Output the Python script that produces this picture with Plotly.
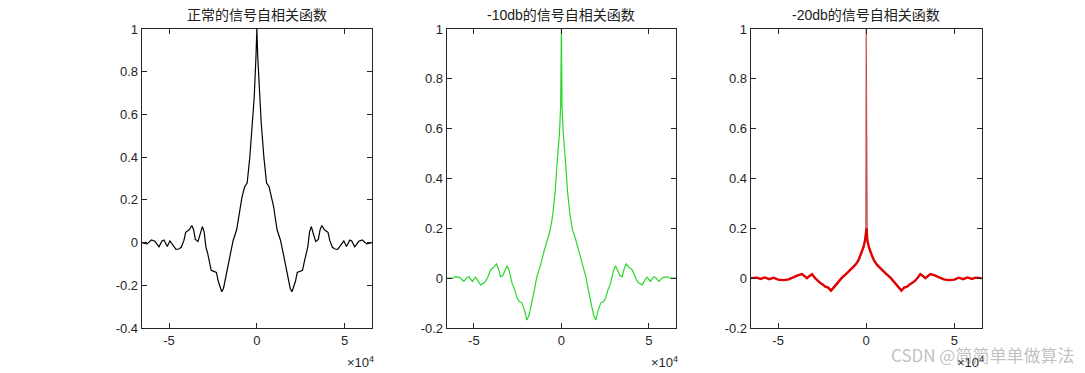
import plotly.graph_objects as go

# ---- data (lag in units of 1e4 samples) ----
titles = ["正常的信号自相关函数", "-10db的信号自相关函数", "-20db的信号自相关函数"]

lag_clean = [-6.55, -6.25, -6.0, -5.8, -5.57, -5.4, -5.29, -5.18, -5.1, -4.95, -4.8, -4.6, -4.45, -4.3, -4.15,
             -4.05, -3.85, -3.7, -3.6, -3.5, -3.35, -3.22, -3.1, -3.0, -2.9, -2.8, -2.7, -2.6, -2.45, -2.3,
             -2.2, -2.0, -1.9, -1.75, -1.55, -1.35, -1.15, -0.95, -0.85, -0.7, -0.55, -0.4, -0.25, -0.15, -0.05,
             0.0,
             0.05, 0.15, 0.25, 0.4, 0.55, 0.7, 0.85, 0.95, 1.15, 1.35, 1.55, 1.75, 1.9, 2.0, 2.2,
             2.3, 2.45, 2.6, 2.7, 2.8, 2.9, 3.0, 3.1, 3.22, 3.35, 3.5, 3.6, 3.7, 3.85, 4.05,
             4.15, 4.3, 4.45, 4.6, 4.8, 4.95, 5.1, 5.18, 5.29, 5.4, 5.57, 5.8, 6.0, 6.25, 6.55]
r_clean = [0.0, -0.006, 0.012, 0.006, -0.02, 0.008, 0.012, -0.005, -0.018, 0.008, -0.01, -0.032, -0.03, -0.022, 0.01,
           0.048, 0.06, 0.08, 0.06, 0.015, 0.005, 0.04, 0.075, 0.05, -0.02, -0.05, -0.09, -0.13, -0.135, -0.14,
           -0.18, -0.23, -0.215, -0.15, -0.07, 0.01, 0.06, 0.17, 0.21, 0.26, 0.28, 0.40, 0.56, 0.68, 0.87,
           1.0,
           0.87, 0.68, 0.56, 0.40, 0.28, 0.26, 0.21, 0.17, 0.06, 0.01, -0.07, -0.15, -0.215, -0.23, -0.18,
           -0.14, -0.135, -0.13, -0.09, -0.05, -0.02, 0.05, 0.075, 0.04, 0.005, 0.015, 0.06, 0.08, 0.06, 0.048,
           0.01, -0.022, -0.03, -0.032, -0.01, 0.008, -0.018, -0.005, 0.012, 0.008, -0.02, 0.006, 0.012, -0.006, 0.0]

lag_10db = [-6.55, -6.2, -6.04, -5.8, -5.57, -5.4, -5.28, -5.18, -5.09, -4.9, -4.75, -4.62, -4.45, -4.34, -4.2,
            -4.05, -3.85, -3.71, -3.6, -3.48, -3.35, -3.22, -3.1, -2.98, -2.82, -2.65, -2.53, -2.4, -2.25, -2.1,
            -1.97, -1.85, -1.68, -1.55, -1.4, -1.2, -1.02, -0.8, -0.64, -0.5, -0.35, -0.26, -0.11, -0.04,
            0.0,
            0.04, 0.11, 0.26, 0.35, 0.5, 0.64, 0.8, 1.02, 1.2, 1.4, 1.55, 1.68, 1.85, 1.97,
            2.1, 2.25, 2.4, 2.53, 2.65, 2.82, 2.98, 3.1, 3.22, 3.35, 3.48, 3.6, 3.71, 3.85, 4.05,
            4.2, 4.34, 4.45, 4.62, 4.75, 4.9, 5.09, 5.18, 5.28, 5.4, 5.57, 5.8, 6.04, 6.2, 6.55]
r_10db = [0.0, 0.0, 0.006, 0.002, -0.013, 0.002, 0.006, -0.005, -0.013, 0.004, -0.01, -0.027, -0.02, -0.013, 0.005,
          0.033, 0.045, 0.057, 0.04, 0.006, 0.01, 0.03, 0.05, 0.03, -0.02, -0.05, -0.08, -0.095, -0.1, -0.13,
          -0.168, -0.15, -0.10, -0.05, 0.006, 0.05, 0.1, 0.16, 0.193, 0.25, 0.35, 0.447, 0.58, 0.69,
          1.0,
          0.69, 0.58, 0.447, 0.35, 0.25, 0.193, 0.16, 0.1, 0.05, 0.006, -0.05, -0.10, -0.15, -0.168,
          -0.13, -0.1, -0.095, -0.08, -0.05, -0.02, 0.03, 0.05, 0.03, 0.01, 0.006, 0.04, 0.057, 0.045, 0.033,
          0.005, -0.013, -0.02, -0.027, -0.01, 0.004, -0.013, -0.005, 0.006, 0.002, -0.013, 0.002, 0.006, 0.0, 0.0]

lag_20db = [-6.55, -6.2, -6.0, -5.75, -5.5, -5.25, -5.0, -4.68, -4.4, -4.1, -3.85, -3.64, -3.5, -3.36, -3.2,
            -3.07, -2.9, -2.75, -2.6, -2.45, -2.32, -2.15, -2.0, -1.85, -1.66, -1.4, -1.09, -0.85, -0.62,
            -0.45, -0.3, -0.15, -0.06, -0.02,
            0.0,
            0.02, 0.06, 0.15, 0.3, 0.45, 0.62, 0.85, 1.09, 1.4, 1.66, 1.85, 2.0, 2.15, 2.32, 2.45,
            2.6, 2.75, 2.9, 3.07, 3.2, 3.36, 3.5, 3.64, 3.85, 4.1, 4.4, 4.68, 5.0, 5.25, 5.5,
            5.75, 6.0, 6.2, 6.55]
r_20db = [0.0, 0.002, -0.003, 0.003, -0.004, 0.002, -0.006, -0.008, -0.005, 0.005, 0.012, 0.016, 0.008, 0.0, 0.01,
          0.016, 0.0, -0.012, -0.02, -0.026, -0.034, -0.038, -0.05, -0.038, -0.02, 0.0, 0.02, 0.036, 0.053,
          0.07, 0.095, 0.125, 0.154, 0.2,
          1.0,
          0.2, 0.154, 0.125, 0.095, 0.07, 0.053, 0.036, 0.02, 0.0, -0.02, -0.038, -0.05, -0.038, -0.034, -0.026,
          -0.02, -0.012, 0.0, 0.016, 0.01, 0.0, 0.008, 0.016, 0.012, 0.005, -0.005, -0.008, -0.006, 0.002, -0.004,
          0.003, -0.003, 0.002, 0.0]

assert len(lag_clean) == len(r_clean)
assert len(lag_10db) == len(r_10db)
assert len(lag_20db) == len(r_20db)

x_ticks = [-5, 0, 5]
x_tick_labels = ["-5", "0", "5"]
y_ticks_1 = [-0.4, -0.2, 0, 0.2, 0.4, 0.6, 0.8, 1]
y_ticks_23 = [-0.2, 0, 0.2, 0.4, 0.6, 0.8, 1]

# ---- figure ----
W, H = 1085, 373
fig = go.Figure()

dom_px = [(141.7, 372.0), (446.7, 676.0), (750.7, 981.7)]
y_dom = [1 - 328 / H, 1 - 29 / H]
y_ranges = [[-0.4, 1], [-0.2, 1], [-0.2, 1]]
y_ticks = [y_ticks_1, y_ticks_23, y_ticks_23]

axis_color = "#262626"
tick_font = dict(family="Liberation Sans, Arial", size=13, color="#262626")

# panel 1 (black) and panel 2 (green)
fig.add_trace(go.Scatter(x=lag_clean, y=r_clean, mode="lines", line=dict(color="#000000", width=1.2),
                         xaxis="x", yaxis="y", showlegend=False, hoverinfo="skip"))
fig.add_trace(go.Scatter(x=lag_10db, y=r_10db, mode="lines", line=dict(color="#2ad62a", width=1.2),
                         xaxis="x2", yaxis="y2", showlegend=False, hoverinfo="skip"))
# panel 3 (red): thin line through the full series (shows the narrow spike),
# thicker noisy body drawn over the points below the spike
fig.add_trace(go.Scatter(x=lag_20db, y=r_20db, mode="lines", line=dict(color="#c85050", width=1.2),
                         xaxis="x3", yaxis="y3", showlegend=False, hoverinfo="skip"))
body = [(a, b) for a, b in zip(lag_20db, r_20db) if b < 0.5]
fig.add_trace(go.Scatter(x=[a for a, _ in body], y=[b for _, b in body], mode="lines",
                         line=dict(color="#e00000", width=2.4),
                         xaxis="x3", yaxis="y3", showlegend=False, hoverinfo="skip"))

for i in range(3):
    n = "" if i == 0 else str(i + 1)
    x0, x1 = dom_px[i]
    fig.update_layout(**{
        "xaxis" + n: dict(domain=[x0 / W, x1 / W], range=[-6.5535, 6.5535], anchor="y" + n,
                          tickvals=x_ticks, ticktext=x_tick_labels, ticks="inside", ticklen=5,
                          tickcolor=axis_color, showline=True, linecolor=axis_color, linewidth=1,
                          mirror="ticks", showgrid=False, zeroline=False, tickfont=tick_font,
                          automargin=False),
        "yaxis" + n: dict(domain=y_dom, range=y_ranges[i], anchor="x" + n,
                          tickvals=y_ticks[i], ticktext=[("%g" % v) for v in y_ticks[i]],
                          ticks="inside", ticklen=5, tickcolor=axis_color, showline=True,
                          linecolor=axis_color, linewidth=1, mirror="ticks", showgrid=False,
                          zeroline=False, tickfont=tick_font, automargin=False),
    })
    # title
    fig.add_annotation(text=titles[i], xref="paper", yref="paper", x=(x0 + x1) / 2 / W, y=1 - 15 / H,
                       showarrow=False, xanchor="center", yanchor="middle",
                       font=dict(family="Liberation Sans, Noto Sans CJK SC", size=14, color="#202020"))
    # exponent label
    fig.add_annotation(text="×10<sup>4</sup>", xref="paper", yref="paper", x=(x1 + 4) / W, y=1 - 362 / H,
                       showarrow=False, xanchor="right", yanchor="middle",
                       font=dict(family="Liberation Sans, Arial", size=13, color="#262626"))

# watermark
fig.add_annotation(text="CSDN @简简单单做算法", xref="paper", yref="paper", x=1076 / W, y=1 - 354 / H,
                   showarrow=False, xanchor="right", yanchor="middle",
                   font=dict(family="Noto Sans CJK SC", size=17, color="rgba(140,140,140,0.55)"))

fig.update_layout(width=W, height=H, margin=dict(l=0, r=0, t=0, b=0, autoexpand=False),
                  paper_bgcolor="white", plot_bgcolor="white")

fig.write_html("out.html", config={"displayModeBar": False},
               post_script="document.body.style.margin='0';document.body.style.overflow='hidden';")
